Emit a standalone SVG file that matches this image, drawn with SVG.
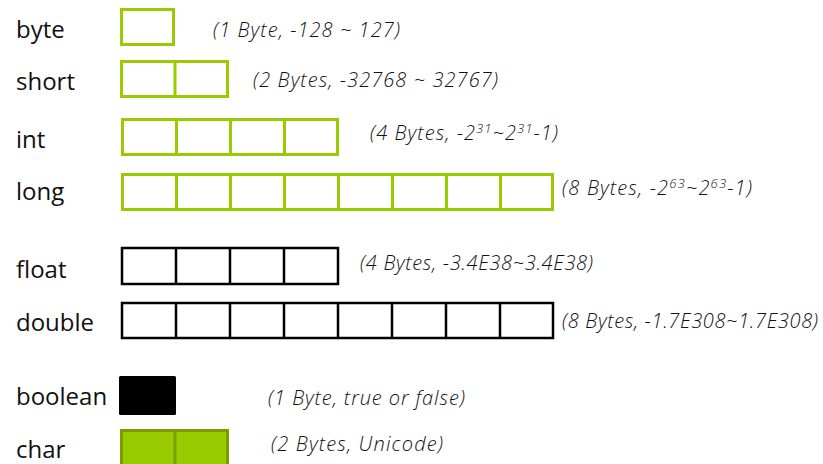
<svg xmlns="http://www.w3.org/2000/svg" width="823" height="464" viewBox="0 0 823 464">
<style>
.lbl{font-family:"Open Sans","Noto Sans",sans-serif;font-size:24px;fill:#111}
.desc{font-family:"Open Sans","Noto Sans",sans-serif;font-size:20px;font-style:italic;font-weight:300;fill:#111}
.sup{font-size:13px}
.g{fill:#fff;stroke:#99cc00;stroke-width:3}
.gl{stroke:#99cc00;stroke-width:3;fill:none}
.k{fill:#fff;stroke:#000;stroke-width:2.5}
.kl{stroke:#000;stroke-width:2.5;fill:none}
</style>
<rect width="823" height="464" fill="#fff"/>
<g id="byte">
<text class="lbl" x="16" y="38">byte</text>
<rect class="g" x="121.5" y="9.5" width="52" height="35"/>
<text class="desc" x="213" y="37" textLength="187" lengthAdjust="spacing">(1 Byte, -128 ~ 127)</text>
</g>
<g id="short">
<text class="lbl" x="16" y="90">short</text>
<rect class="g" x="121.5" y="61.5" width="106" height="35"/>
<path class="gl" d="M175 61.5V96.5"/>
<text class="desc" x="253" y="87" textLength="245" lengthAdjust="spacing">(2 Bytes, -32768 ~ 32767)</text>
</g>
<g id="int">
<text class="lbl" x="16" y="148">int</text>
<rect class="g" x="122.5" y="119.5" width="215" height="35"/>
<path class="gl" d="M176.5 119.5V154.5M230.5 119.5V154.5M284.5 119.5V154.5"/>
<text class="desc" x="370" y="140" textLength="188" lengthAdjust="spacing">(4 Bytes, -2<tspan class="sup" dy="-7">31</tspan><tspan dy="7">~2</tspan><tspan class="sup" dy="-7">31</tspan><tspan dy="7">-1)</tspan></text>
</g>
<g id="long">
<text class="lbl" x="16" y="200">long</text>
<rect class="g" x="122.5" y="174.5" width="430" height="35"/>
<path class="gl" d="M176.5 174.5V209.5M230.5 174.5V209.5M284.5 174.5V209.5M338.5 174.5V209.5M392.5 174.5V209.5M446.5 174.5V209.5M500.5 174.5V209.5"/>
<text class="desc" x="562" y="195" textLength="190" lengthAdjust="spacing">(8 Bytes, -2<tspan class="sup" dy="-7">63</tspan><tspan dy="7">~2</tspan><tspan class="sup" dy="-7">63</tspan><tspan dy="7">-1)</tspan></text>
</g>
<g id="float">
<text class="lbl" x="16" y="278">float</text>
<rect class="k" x="122" y="248" width="216" height="36"/>
<path class="kl" d="M176 248V284M230 248V284M284 248V284"/>
<text class="desc" x="360" y="270" textLength="233" lengthAdjust="spacing">(4 Bytes, -3.4E38~3.4E38)</text>
</g>
<g id="double">
<text class="lbl" x="16" y="331">double</text>
<rect class="k" x="122" y="303" width="431" height="35"/>
<path class="kl" d="M176 303V338M230 303V338M284 303V338M338 303V338M392 303V338M446 303V338M500 303V338"/>
<text class="desc" x="562" y="328" textLength="256" lengthAdjust="spacing">(8 Bytes, -1.7E308~1.7E308)</text>
</g>
<g id="boolean">
<text class="lbl" x="16" y="405">boolean</text>
<rect x="119" y="376" width="57" height="39" rx="1.5" fill="#000"/>
<text class="desc" x="268" y="405" textLength="197" lengthAdjust="spacing">(1 Byte, true or false)</text>
</g>
<g id="char">
<text class="lbl" x="16" y="458">char</text>
<rect x="121.5" y="430.5" width="106" height="40" fill="#99cc00" stroke="#7a9e00" stroke-width="3"/>
<path d="M175 430.5V470" stroke="#7a9e00" stroke-width="3"/>
<text class="desc" x="271" y="451" textLength="172" lengthAdjust="spacing">(2 Bytes, Unicode)</text>
</g>
<g id="connectors"></g>
</svg>
